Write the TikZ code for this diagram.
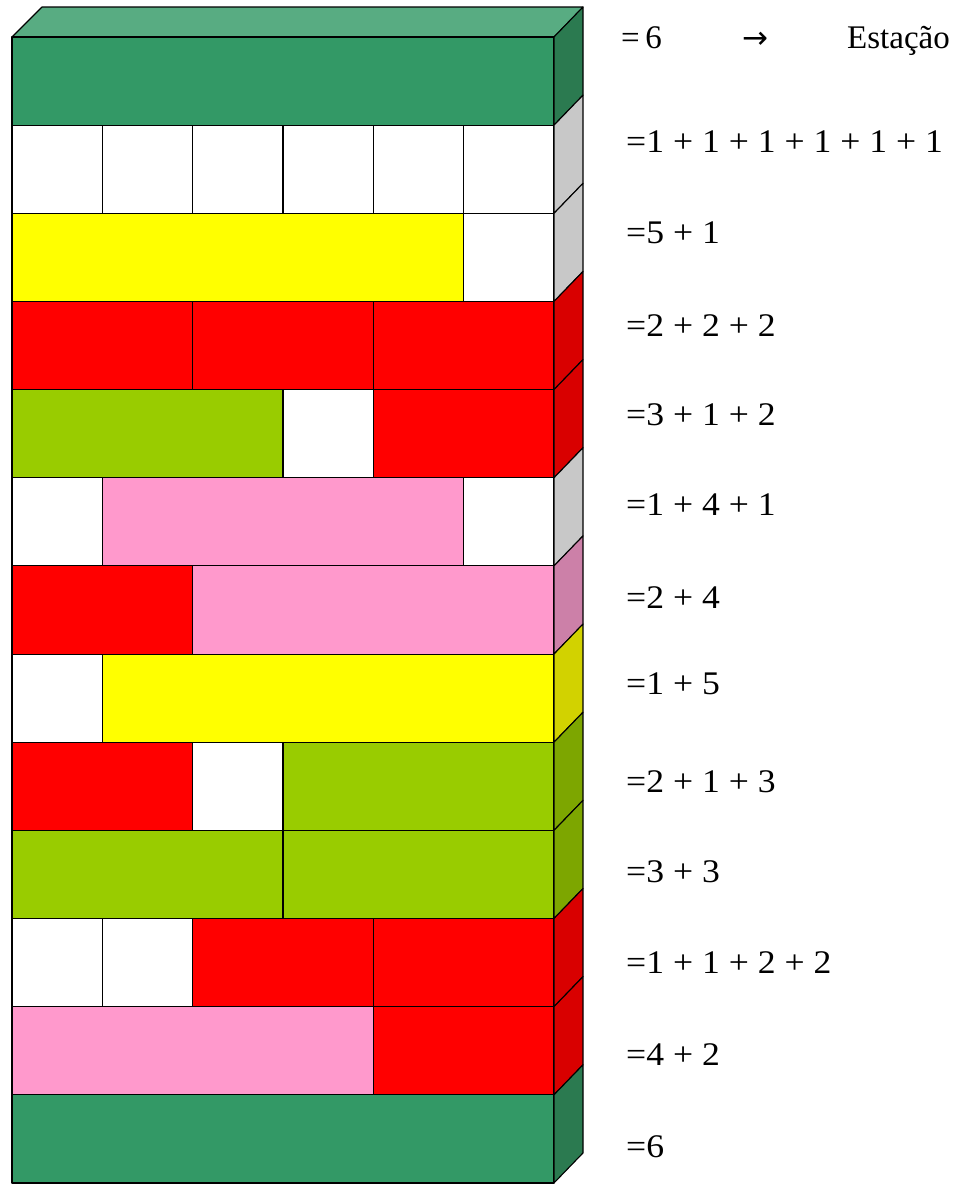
\documentclass[tikz,border=0pt]{standalone}
\usepackage{fontspec}
\setmainfont{Liberation Serif}
\newfontfamily\arrowfont{DejaVu Sans}
\usepackage{graphicx}
\definecolor{gfront}{HTML}{339966}
\definecolor{gtop}{HTML}{58AC82}
\definecolor{gside}{HTML}{2B7A50}
\definecolor{wside}{HTML}{C8C8C8}
\definecolor{rfront}{HTML}{FF0000}
\definecolor{rside}{HTML}{D90000}
\definecolor{yfront}{HTML}{FFFF00}
\definecolor{yside}{HTML}{D2D200}
\definecolor{lfront}{HTML}{99CC00}
\definecolor{lside}{HTML}{7DA600}
\definecolor{pfront}{HTML}{FF99CC}
\definecolor{pside}{HTML}{CC80A8}
\tikzset{
  blockline/.style={draw=black, line width=1.1pt, line join=round},
  lab/.style={anchor=base west, inner sep=0pt, font=\fontsize{33}{34}\selectfont},
  labtop/.style={anchor=base west, inner sep=0pt, font=\fontsize{33}{34}\selectfont}
}
\newcommand\blk[4]{\filldraw[blockline,fill=#4] ({12+90.33*(#2)},{37+88.15*(#1)}) rectangle ({12+90.33*(#2+#3)},{37+88.15*(#1+1)});}
\newcommand\sidefc[2]{\filldraw[blockline,fill=#2] (554,{37+88.15*(#1)}) -- (583,{7+88.15*(#1)}) -- (583,{7+88.15*(#1+1)}) -- (554,{37+88.15*(#1+1)}) -- cycle;}
\newcommand\wide[1]{\scalebox{1.08}[1]{#1}}
\begin{document}
\begin{tikzpicture}[x=1pt,y=-1pt]
\useasboundingbox (0,0) rectangle (957,1186);
% top face
\filldraw[blockline,fill=gtop] (12,37) -- (42,7) -- (583,7) -- (554,37) -- cycle;
% row 0
\blk{0}{0}{6}{gfront} \sidefc{0}{gside}
% row 1
\blk{1}{0}{1}{white}\blk{1}{1}{1}{white}\blk{1}{2}{1}{white}\blk{1}{3}{1}{white}\blk{1}{4}{1}{white}\blk{1}{5}{1}{white} \sidefc{1}{wside}
% row 2
\blk{2}{0}{5}{yfront}\blk{2}{5}{1}{white} \sidefc{2}{wside}
% row 3
\blk{3}{0}{2}{rfront}\blk{3}{2}{2}{rfront}\blk{3}{4}{2}{rfront} \sidefc{3}{rside}
% row 4
\blk{4}{0}{3}{lfront}\blk{4}{3}{1}{white}\blk{4}{4}{2}{rfront} \sidefc{4}{rside}
% row 5
\blk{5}{0}{1}{white}\blk{5}{1}{4}{pfront}\blk{5}{5}{1}{white} \sidefc{5}{wside}
% row 6
\blk{6}{0}{2}{rfront}\blk{6}{2}{4}{pfront} \sidefc{6}{pside}
% row 7
\blk{7}{0}{1}{white}\blk{7}{1}{5}{yfront} \sidefc{7}{yside}
% row 8
\blk{8}{0}{2}{rfront}\blk{8}{2}{1}{white}\blk{8}{3}{3}{lfront} \sidefc{8}{lside}
% row 9
\blk{9}{0}{3}{lfront}\blk{9}{3}{3}{lfront} \sidefc{9}{lside}
% row 10
\blk{10}{0}{1}{white}\blk{10}{1}{1}{white}\blk{10}{2}{2}{rfront}\blk{10}{4}{2}{rfront} \sidefc{10}{rside}
% row 11
\blk{11}{0}{4}{pfront}\blk{11}{4}{2}{rfront} \sidefc{11}{rside}
% row 12
\blk{12}{0}{6}{gfront} \sidefc{12}{gside}
% labels
\node[labtop] (l1) at (621,48) {=\,6};
\node[labtop] (arr) at (742,48) {\arrowfont\fontsize{31}{32}\selectfont →};
\node[labtop] (est) at (847,48) {Estação};
\node[lab] (l2) at (626,152) {\wide{=1 + 1 + 1 + 1 + 1 + 1}};
\node[lab] (l3) at (626,243) {\wide{=5 + 1}};
\node[lab] (l4) at (626,336) {\wide{=2 + 2 + 2}};
\node[lab] (l5) at (626,425) {\wide{=3 + 1 + 2}};
\node[lab] (l6) at (626,515) {\wide{=1 + 4 + 1}};
\node[lab] (l7) at (626,608) {\wide{=2 + 4}};
\node[lab] (l8) at (626,694) {\wide{=1 + 5}};
\node[lab] (l9) at (626,792) {\wide{=2 + 1 + 3}};
\node[lab] (l10) at (626,882) {\wide{=3 + 3}};
\node[lab] (l11) at (626,973) {\wide{=1 + 1 + 2 + 2}};
\node[lab] (l12) at (626,1065) {\wide{=4 + 2}};
\node[lab] (l13) at (626,1157) {\wide{=6}};
\end{tikzpicture}
\end{document}
